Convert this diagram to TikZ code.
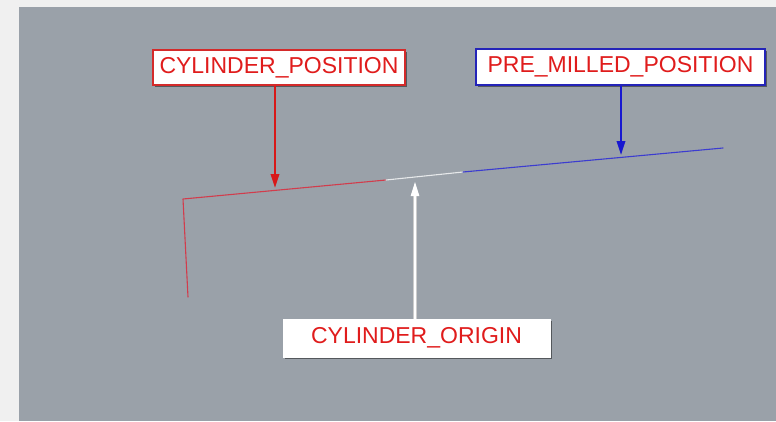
\documentclass[tikz,border=0pt]{standalone}
\usepackage{fontspec}
\setmainfont{Liberation Sans}
\usetikzlibrary{arrows.meta,shadows,calc}

\definecolor{pagebg}{HTML}{F0F0F0}
\definecolor{viewbg}{HTML}{9AA1A9}
\definecolor{labelred}{HTML}{E01C1C}
\definecolor{boxred}{HTML}{D42A2A}
\definecolor{boxblue}{HTML}{2424B8}
\definecolor{curvered}{HTML}{D23C4C}
\definecolor{curveblue}{HTML}{3C3CD0}
\definecolor{curvewhite}{HTML}{E6E8EA}
\definecolor{arrowred}{HTML}{D81818}
\definecolor{arrowblue}{HTML}{1818D0}

\tikzset{
  tag/.style={fill=white, inner sep=0pt, text=labelred,
    font=\fontsize{23}{26}\selectfont,
    drop shadow={shadow xshift=1.5pt, shadow yshift=-1.5pt, opacity=0.45, fill=black}},
  curve/.style={line width=1.1pt, line cap=round, line join=round},
  pointer/.style={line width=2pt, -{Triangle[length=14pt,width=8.5pt]}},
}

\begin{document}
\begin{tikzpicture}[x=1pt,y=-1pt]
  % canvas and viewport
  \fill[pagebg] (0,0) rectangle (776,421);
  \useasboundingbox (0,0) rectangle (776,421);
  \fill[viewbg] (19,7) rectangle (776,421);

  % polyline vertices
  \coordinate (p0) at (188,297);
  \coordinate (p1) at (183,199);
  \coordinate (p2) at (386,180);
  \coordinate (p3) at (463,172);
  \coordinate (p4) at (723,148);

  % arrow tips
  \coordinate (tipred) at (275,188);
  \coordinate (tipblue) at (621,155);
  \coordinate (tipwhite) at (415,182);

  % the three segments
  \draw[curve, curvered] (p0) -- (p1) -- (p2);
  \draw[curve, curvewhite] (p2) -- (p3);
  \draw[curve, curveblue] (p3) -- (p4);

  % labels
  \node[tag, draw=boxred, line width=1.5pt, minimum width=252pt, minimum height=35pt]
    (cylpos) at (279,67.5) {CYLINDER\_POSITION};
  \node[tag, draw=boxblue, line width=1.5pt, minimum width=289pt, minimum height=36pt]
    (premill) at (620.5,67) {PRE\_MILLED\_POSITION};
  \node[tag, draw=white, line width=0.5pt, minimum width=267pt, minimum height=38pt]
    (cylorig) at (416.5,338) {CYLINDER\_ORIGIN};

  % pointers
  \draw[pointer, arrowred] (cylpos.south -| tipred) -- (tipred);
  \draw[pointer, arrowblue] (premill.south -| tipblue) -- (tipblue);
  \draw[line width=1pt, draw=gray!40, double=white, double distance=1.4pt,
        -{Triangle[length=14pt,width=8.5pt,fill=white,color=white]}]
    (cylorig.north -| tipwhite) -- (tipwhite);
\end{tikzpicture}
\end{document}
